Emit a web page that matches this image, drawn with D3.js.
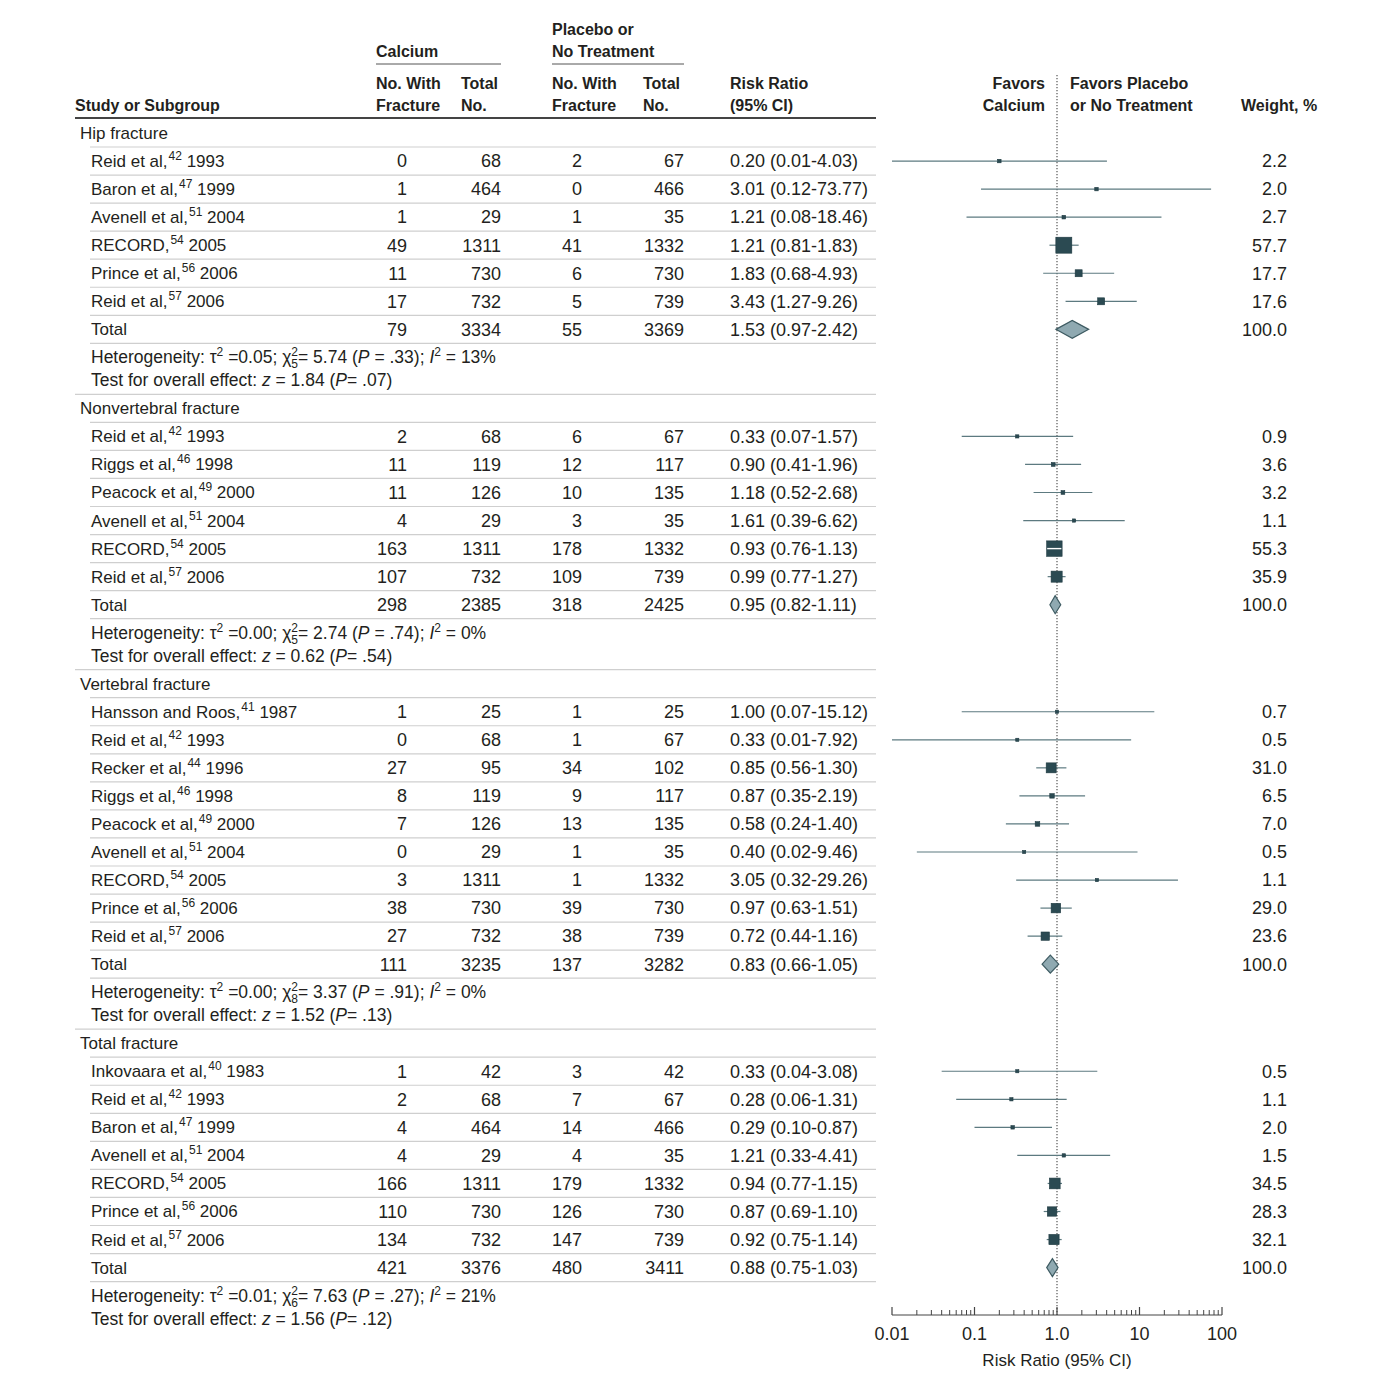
<!DOCTYPE html>
<html>
<head>
<meta charset="utf-8">
<script src="https://cdn.jsdelivr.net/npm/d3@7"></script>
<style>
  html, body { margin: 0; padding: 0; background: #fff; }
  svg { display: block; }
  text { font-family: "Liberation Sans", Arial, sans-serif; fill: #231f20; }
</style>
</head>
<body>
<svg id="chart" width="1399" height="1387"></svg>
<script>
// ---------- DATA ----------
const groupNames = ["Hip fracture", "Nonvertebral fracture", "Vertebral fracture", "Total fracture"];

// [study, ref, year, calEvents, calTotal, plaEvents, plaTotal, rr, lo, hi, weight]
const hipRows = [
  ["Reid et al,", "42", "1993", 0, 68, 2, 67, 0.20, 0.01, 4.03, 2.2],
  ["Baron et al,", "47", "1999", 1, 464, 0, 466, 3.01, 0.12, 73.77, 2.0],
  ["Avenell et al,", "51", "2004", 1, 29, 1, 35, 1.21, 0.08, 18.46, 2.7],
  ["RECORD,", "54", "2005", 49, 1311, 41, 1332, 1.21, 0.81, 1.83, 57.7],
  ["Prince et al,", "56", "2006", 11, 730, 6, 730, 1.83, 0.68, 4.93, 17.7],
  ["Reid et al,", "57", "2006", 17, 732, 5, 739, 3.43, 1.27, 9.26, 17.6]
];
const nonvertRows = [
  ["Reid et al,", "42", "1993", 2, 68, 6, 67, 0.33, 0.07, 1.57, 0.9],
  ["Riggs et al,", "46", "1998", 11, 119, 12, 117, 0.90, 0.41, 1.96, 3.6],
  ["Peacock et al,", "49", "2000", 11, 126, 10, 135, 1.18, 0.52, 2.68, 3.2],
  ["Avenell et al,", "51", "2004", 4, 29, 3, 35, 1.61, 0.39, 6.62, 1.1],
  ["RECORD,", "54", "2005", 163, 1311, 178, 1332, 0.93, 0.76, 1.13, 55.3],
  ["Reid et al,", "57", "2006", 107, 732, 109, 739, 0.99, 0.77, 1.27, 35.9]
];
const vertRows = [
  ["Hansson and Roos,", "41", "1987", 1, 25, 1, 25, 1.00, 0.07, 15.12, 0.7],
  ["Reid et al,", "42", "1993", 0, 68, 1, 67, 0.33, 0.01, 7.92, 0.5],
  ["Recker et al,", "44", "1996", 27, 95, 34, 102, 0.85, 0.56, 1.30, 31.0],
  ["Riggs et al,", "46", "1998", 8, 119, 9, 117, 0.87, 0.35, 2.19, 6.5],
  ["Peacock et al,", "49", "2000", 7, 126, 13, 135, 0.58, 0.24, 1.40, 7.0],
  ["Avenell et al,", "51", "2004", 0, 29, 1, 35, 0.40, 0.02, 9.46, 0.5],
  ["RECORD,", "54", "2005", 3, 1311, 1, 1332, 3.05, 0.32, 29.26, 1.1],
  ["Prince et al,", "56", "2006", 38, 730, 39, 730, 0.97, 0.63, 1.51, 29.0],
  ["Reid et al,", "57", "2006", 27, 732, 38, 739, 0.72, 0.44, 1.16, 23.6]
];
const totalRows = [
  ["Inkovaara et al,", "40", "1983", 1, 42, 3, 42, 0.33, 0.04, 3.08, 0.5],
  ["Reid et al,", "42", "1993", 2, 68, 7, 67, 0.28, 0.06, 1.31, 1.1],
  ["Baron et al,", "47", "1999", 4, 464, 14, 466, 0.29, 0.10, 0.87, 2.0],
  ["Avenell et al,", "51", "2004", 4, 29, 4, 35, 1.21, 0.33, 4.41, 1.5],
  ["RECORD,", "54", "2005", 166, 1311, 179, 1332, 0.94, 0.77, 1.15, 34.5],
  ["Prince et al,", "56", "2006", 110, 730, 126, 730, 0.87, 0.69, 1.10, 28.3],
  ["Reid et al,", "57", "2006", 134, 732, 147, 739, 0.92, 0.75, 1.14, 32.1]
];
// pooled totals: [calEvents, calTotal, plaEvents, plaTotal, rr, lo, hi, weight]
const pooledTotals = [
  [79, 3334, 55, 3369, 1.53, 0.97, 2.42, 100.0],
  [298, 2385, 318, 2425, 0.95, 0.82, 1.11, 100.0],
  [111, 3235, 137, 3282, 0.83, 0.66, 1.05, 100.0],
  [421, 3376, 480, 3411, 0.88, 0.75, 1.03, 100.0]
];
// heterogeneity: [tau2, df, chi2, P, I2, z, Pz]
const heterogeneity = [
  ["0.05", "5", "5.74", ".33", "13%", "1.84", ".07"],
  ["0.00", "5", "2.74", ".74", "0%", "0.62", ".54"],
  ["0.00", "8", "3.37", ".91", "0%", "1.52", ".13"],
  ["0.01", "6", "7.63", ".27", "21%", "1.56", ".12"]
];
const axisTicks = [0.01, 0.1, 1, 10, 100];
const axisTickLabels = ["0.01", "0.1", "1.0", "10", "100"];
const allGroupRows = [hipRows, nonvertRows, vertRows, totalRows];

// ---------- LAYOUT ----------
const svg = d3.select("#chart");
const FS = 17;      // text labels
const NFS = 18;     // numbers
const HFS = 16;     // bold headers
const darkSq = "#2b4a52";
const ciColor = "#5d7a80";
const diamondFill = "#8fa9b1";
const sepColor = "#cfcfcf";
const lineRight = 876;

const x = d3.scaleLog().domain([0.01, 100]).range([892, 1222]);

const col = { cal1: 407, cal2: 501, pla1: 582, pla2: 684, rr: 730, wt: 1287 };

function fmt2(v) { return v.toFixed(2); }
function rrText(r, l, h) { return fmt2(r) + " (" + fmt2(l) + "-" + fmt2(h) + ")"; }

// headers
const hdr = svg.append("g").attr("font-weight", "bold").attr("font-size", HFS);
function htext(t, xx, yy, anchor) {
  hdr.append("text").attr("x", xx).attr("y", yy).attr("dy", "0.35em")
    .attr("text-anchor", anchor || "start").text(t);
}
htext("Calcium", 376, 51);
htext("Placebo or", 552, 29);
htext("No Treatment", 552, 51);
htext("No. With", 376, 83); htext("Fracture", 376, 105);
htext("Total", 461, 83); htext("No.", 461, 105);
htext("No. With", 552, 83); htext("Fracture", 552, 105);
htext("Total", 643, 83); htext("No.", 643, 105);
htext("Risk Ratio", 730, 83); htext("(95% CI)", 730, 105);
htext("Study or Subgroup", 75, 105);
htext("Favors", 1045, 83, "end"); htext("Calcium", 1045, 105, "end");
htext("Favors Placebo", 1070, 83); htext("or No Treatment", 1070, 105);
htext("Weight, %", 1241, 105);

svg.append("line").attr("x1", 376).attr("x2", 501).attr("y1", 64).attr("y2", 64)
  .attr("stroke", "#555").attr("stroke-width", 1);
svg.append("line").attr("x1", 552).attr("x2", 684).attr("y1", 64).attr("y2", 64)
  .attr("stroke", "#555").attr("stroke-width", 1);
svg.append("line").attr("x1", 75).attr("x2", lineRight).attr("y1", 118).attr("y2", 118)
  .attr("stroke", "#444").attr("stroke-width", 2);

// null line
const axisY = 1315;
svg.append("line").attr("x1", x(1)).attr("x2", x(1)).attr("y1", 75).attr("y2", axisY)
  .attr("stroke", "#555").attr("stroke-width", 1.2).attr("stroke-dasharray", "1.2,1.8");

const body = svg.append("g").attr("font-size", FS);
const marks = svg.append("g");

function sep(yy, x1) {
  body.append("line").attr("x1", x1).attr("x2", lineRight).attr("y1", yy).attr("y2", yy)
    .attr("stroke", sepColor).attr("stroke-width", 1.2);
}
function numText(v, xx, yy) {
  body.append("text").attr("x", xx).attr("y", yy).attr("dy", "0.35em")
    .attr("font-size", NFS).attr("text-anchor", "end").text(v);
}
function sqSide(w) { return 3 + 0.225 * w; }

const STEP = 28.05;
let y = 133;
allGroupRows.forEach((rows, gi) => {
  body.append("text").attr("x", 80).attr("y", y).attr("dy", "0.35em").text(groupNames[gi]);
  sep(y + 14, 90);
  rows.forEach(r => {
    y += STEP;
    const t = body.append("text").attr("x", 91).attr("y", y).attr("dy", "0.35em");
    t.append("tspan").text(r[0]);
    t.append("tspan").attr("font-size", 12).attr("dy", -7).attr("dx", 1).text(r[1]);
    t.append("tspan").attr("dy", 7).text("\u00a0" + r[2]);
    numText(r[3], col.cal1, y); numText(r[4], col.cal2, y);
    numText(r[5], col.pla1, y); numText(r[6], col.pla2, y);
    body.append("text").attr("x", col.rr).attr("y", y).attr("dy", "0.35em")
      .attr("font-size", NFS).text(rrText(r[7], r[8], r[9]));
    numText(r[10].toFixed(1), col.wt, y);
    sep(y + 14, 90);
    // marks
    const s = sqSide(r[10]);
    const cx = x(r[7]);
    marks.append("line").attr("x1", x(r[8])).attr("x2", x(r[9])).attr("y1", y).attr("y2", y)
      .attr("stroke", ciColor).attr("stroke-width", 1.2);
    marks.append("rect").attr("x", cx - s / 2).attr("y", y - s / 2).attr("width", s).attr("height", s)
      .attr("fill", darkSq).attr("stroke", "#1f3a41").attr("stroke-width", 0.6);
    if (x(r[8]) > cx - s / 2 && x(r[9]) < cx + s / 2) {
      marks.append("line").attr("x1", x(r[8])).attr("x2", x(r[9])).attr("y1", y).attr("y2", y)
        .attr("stroke", "#fff").attr("stroke-width", 1.4);
    }
  });
  // Total
  y += STEP;
  const p = pooledTotals[gi];
  body.append("text").attr("x", 91).attr("y", y).attr("dy", "0.35em").text("Total");
  numText(p[0], col.cal1, y); numText(p[1], col.cal2, y);
  numText(p[2], col.pla1, y); numText(p[3], col.pla2, y);
  body.append("text").attr("x", col.rr).attr("y", y).attr("dy", "0.35em")
    .attr("font-size", NFS).text(rrText(p[4], p[5], p[6]));
  numText(p[7].toFixed(1), col.wt, y);
  sep(y + 14, 90);
  const dh = 9;
  marks.append("path")
    .attr("d", `M${x(p[5])},${y} L${x(p[4])},${y - dh} L${x(p[6])},${y} L${x(p[4])},${y + dh} Z`)
    .attr("fill", diamondFill).attr("stroke", "#3e5b62").attr("stroke-width", 1.2);
  // heterogeneity
  const h = heterogeneity[gi];
  y += 28;
  const ht = body.append("text").attr("x", 91).attr("y", y).attr("dy", "0.35em").attr("font-size", 17.5);
  ht.append("tspan").text("Heterogeneity: \u03c4");
  ht.append("tspan").attr("font-size", 12).attr("dy", -7).text("2");
  ht.append("tspan").attr("dy", 7).text(" =" + h[0] + "; \u03c7");
  ht.append("tspan").attr("font-size", 12).attr("dy", -7).text("2");
  ht.append("tspan").attr("font-size", 12).attr("dy", 12).attr("dx", -6.7).text(h[1]);
  ht.append("tspan").attr("dy", -5).text("= " + h[2] + " (");
  ht.append("tspan").attr("font-style", "italic").text("P");
  ht.append("tspan").text(" = " + h[3] + "); ");
  ht.append("tspan").attr("font-style", "italic").text("I");
  ht.append("tspan").attr("font-size", 12).attr("dy", -7).text("2");
  ht.append("tspan").attr("dy", 7).text(" = " + h[4]);
  y += 23;
  const tt = body.append("text").attr("x", 91).attr("y", y).attr("dy", "0.35em").attr("font-size", 17.5);
  tt.append("tspan").text("Test for overall effect: ");
  tt.append("tspan").attr("font-style", "italic").text("z");
  tt.append("tspan").text(" = " + h[5] + " (");
  tt.append("tspan").attr("font-style", "italic").text("P");
  tt.append("tspan").text("= " + h[6] + ")");
  if (gi < allGroupRows.length - 1) sep(y + 14, 75);
  y += 28;
});

// ---------- AXIS ----------
const ax = svg.append("g");
ax.append("line").attr("x1", x(0.01)).attr("x2", x(100)).attr("y1", axisY).attr("y2", axisY)
  .attr("stroke", "#444").attr("stroke-width", 1.2);
const minor = [];
for (let d = 0.01; d < 100; d *= 10) for (let k = 2; k <= 9; k++) minor.push(d * k);
ax.selectAll(".minor").data(minor).enter().append("line")
  .attr("x1", d => x(d)).attr("x2", d => x(d)).attr("y1", axisY).attr("y2", axisY - 5)
  .attr("stroke", "#444").attr("stroke-width", 1);
ax.selectAll(".major").data(axisTicks).enter().append("line")
  .attr("x1", d => x(d)).attr("x2", d => x(d)).attr("y1", axisY).attr("y2", axisY - 8)
  .attr("stroke", "#444").attr("stroke-width", 1.2);
ax.selectAll(".lbl").data(axisTicks).enter().append("text")
  .attr("x", d => x(d)).attr("y", 1334).attr("dy", "0.35em").attr("text-anchor", "middle")
  .attr("font-size", NFS).text((d, i) => axisTickLabels[i]);
ax.append("text").attr("x", x(1)).attr("y", 1360).attr("dy", "0.35em").attr("text-anchor", "middle")
  .attr("font-size", FS).text("Risk Ratio (95% CI)");
</script>
</body>
</html>
